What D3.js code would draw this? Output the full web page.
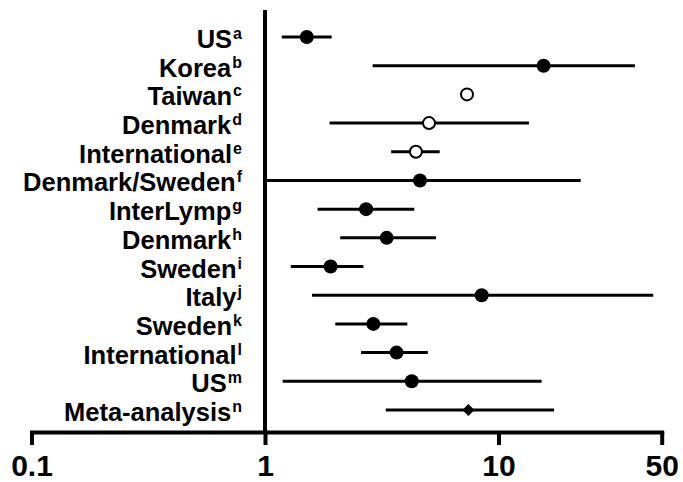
<!DOCTYPE html>
<html>
<head>
<meta charset="utf-8">
<script src="https://cdn.jsdelivr.net/npm/d3@7"></script>
<style>
  html, body { margin: 0; padding: 0; background: #fff; }
  svg { display: block; }
  text { font-family: "Liberation Sans", Arial, sans-serif; font-weight: bold; fill: #000; }
</style>
</head>
<body>
<svg id="chart" width="683" height="482"></svg>
<script>
// ---- Data ----
const studies = ["US", "Korea", "Taiwan", "Denmark", "International", "Denmark/Sweden",
  "InterLymp", "Denmark", "Sweden", "Italy", "Sweden", "International", "US", "Meta-analysis"];
const footnotes = ["a", "b", "c", "d", "e", "f", "g", "h", "i", "j", "k", "l", "m", "n"];
const estimates = [1.51, 15.6, 7.33, 5.04, 4.43, 4.61, 2.71, 3.32, 1.91, 8.47, 2.91, 3.66, 4.25, 7.43];
const lowerCI  = [1.18, 2.89, null, 1.89, 3.47, 1.0, 1.68, 2.10, 1.29, 1.59, 2.00, 2.58, 1.19, 3.29];
const upperCI  = [1.93, 38.4, null, 13.5, 5.60, 22.5, 4.36, 5.40, 2.64, 46.0, 4.07, 4.98, 15.3, 17.3];
const markerTypes = ["filled", "filled", "open", "open", "open", "filled", "filled", "filled",
  "filled", "filled", "filled", "filled", "filled", "diamond"];
const tickValues = [0.1, 1, 10, 50];
const tickLabels = ["0.1", "1", "10", "50"];

// ---- Chart ----
const svg = d3.select("#chart");
const x = d3.scaleLog().domain([0.1, 50]).range([31.5, 661.7]);
const y = d3.scalePoint().domain(d3.range(studies.length)).range([37, 410]);
const axisY = 432;

const rows = studies.map((s, i) => ({
  name: s, sup: footnotes[i], est: estimates[i], lo: lowerCI[i], hi: upperCI[i], type: markerTypes[i], i
}));

// vertical reference line at 1
svg.append("line")
  .attr("x1", x(1)).attr("x2", x(1))
  .attr("y1", 10).attr("y2", axisY)
  .attr("stroke", "#000").attr("stroke-width", 4);

// x axis
const axis = d3.axisBottom(x)
  .tickValues(tickValues)
  .tickFormat((d, i) => tickLabels[i])
  .tickSize(13)
  .tickSizeOuter(0);
const gAxis = svg.append("g").attr("transform", `translate(0,${axisY})`).call(axis);
gAxis.select(".domain").attr("stroke", "#000").attr("stroke-width", 4).attr("stroke-linecap", "square");
gAxis.selectAll(".tick line").attr("stroke", "#000").attr("stroke-width", 4);
gAxis.selectAll(".tick text")
  .attr("y", 43.5).attr("dy", 0)
  .attr("font-size", 30)
  .attr("font-family", "'Liberation Sans', Arial, sans-serif")
  .attr("font-weight", "bold")
  .attr("fill", "#000");

// labels
const labelX = 242;
const lab = svg.append("g").selectAll("text").data(rows).join("text")
  .attr("x", labelX)
  .attr("y", d => y(d.i) + 11)
  .attr("text-anchor", "end")
  .attr("font-size", 25.5);
lab.append("tspan").text(d => d.name);
lab.append("tspan").text(d => d.sup).attr("font-size", 16).attr("dy", -9).attr("dx", 1);

// CI lines
svg.append("g").selectAll("line").data(rows.filter(d => d.lo != null)).join("line")
  .attr("x1", d => x(d.lo)).attr("x2", d => x(d.hi))
  .attr("y1", d => y(d.i)).attr("y2", d => y(d.i))
  .attr("stroke", "#000").attr("stroke-width", 3);

// markers
const circ = rows.filter(d => d.type !== "diamond");
svg.append("g").selectAll("circle").data(circ).join("circle")
  .attr("cx", d => x(d.est)).attr("cy", d => y(d.i))
  .attr("r", d => d.type === "open" ? 6 : 7)
  .attr("fill", d => d.type === "open" ? "#fff" : "#000")
  .attr("stroke", "#000")
  .attr("stroke-width", d => d.type === "open" ? 2 : 0);

svg.append("g").selectAll("path").data(rows.filter(d => d.type === "diamond")).join("path")
  .attr("d", d3.symbol().type(d3.symbolSquare).size(72))
  .attr("transform", d => `translate(${x(d.est)},${y(d.i)}) rotate(45)`)
  .attr("fill", "#000");
</script>
</body>
</html>
